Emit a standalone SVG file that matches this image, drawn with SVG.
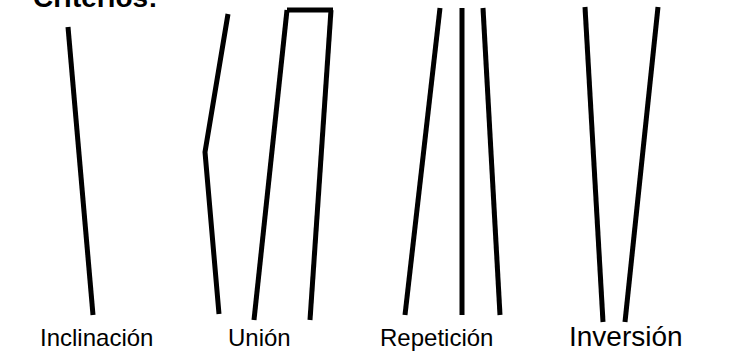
<svg xmlns="http://www.w3.org/2000/svg" width="734" height="356" viewBox="0 0 734 356">
<style>
.ln{fill:none;stroke:#000;stroke-width:5;stroke-linecap:butt;stroke-linejoin:miter}
.lb{font-family:"Liberation Sans",Arial,sans-serif;font-size:24px;fill:#000}
.tt{font-family:"Liberation Sans",Arial,sans-serif;font-size:28px;font-weight:bold;fill:#000}
</style>
<rect width="734" height="356" fill="#fff"/>
<text class="tt" x="33" y="7">Criterios:</text>
<g id="connectors">
<g id="inclinacion">
<line class="ln" x1="68" y1="27" x2="93" y2="315"/>
</g>
<g id="union">
<polyline class="ln" points="228,14 205,152 219,314"/>
<line class="ln" x1="287" y1="10" x2="254" y2="320"/>
<line class="ln" x1="331" y1="10" x2="310" y2="320"/>
<line class="ln" x1="287" y1="10" x2="333" y2="10" stroke-width="6"/>
</g>
<g id="repeticion">
<line class="ln" x1="440" y1="8" x2="405" y2="315"/>
<line class="ln" x1="462" y1="8" x2="462" y2="315"/>
<line class="ln" x1="483" y1="8" x2="500" y2="315"/>
</g>
<g id="inversion">
<line class="ln" x1="585" y1="7" x2="603" y2="322"/>
<line class="ln" x1="658" y1="7" x2="625" y2="322"/>
</g>
</g>
<g id="label-inclinacion"><text class="lb" x="40" y="346">Inclinación</text></g>
<g id="label-union"><text class="lb" x="228" y="346">Unión</text></g>
<g id="label-repeticion"><text class="lb" x="380" y="346">Repetición</text></g>
<g id="label-inversion"><text class="lb" x="569" y="346" style="font-size:28px">Inversión</text></g>
</svg>
